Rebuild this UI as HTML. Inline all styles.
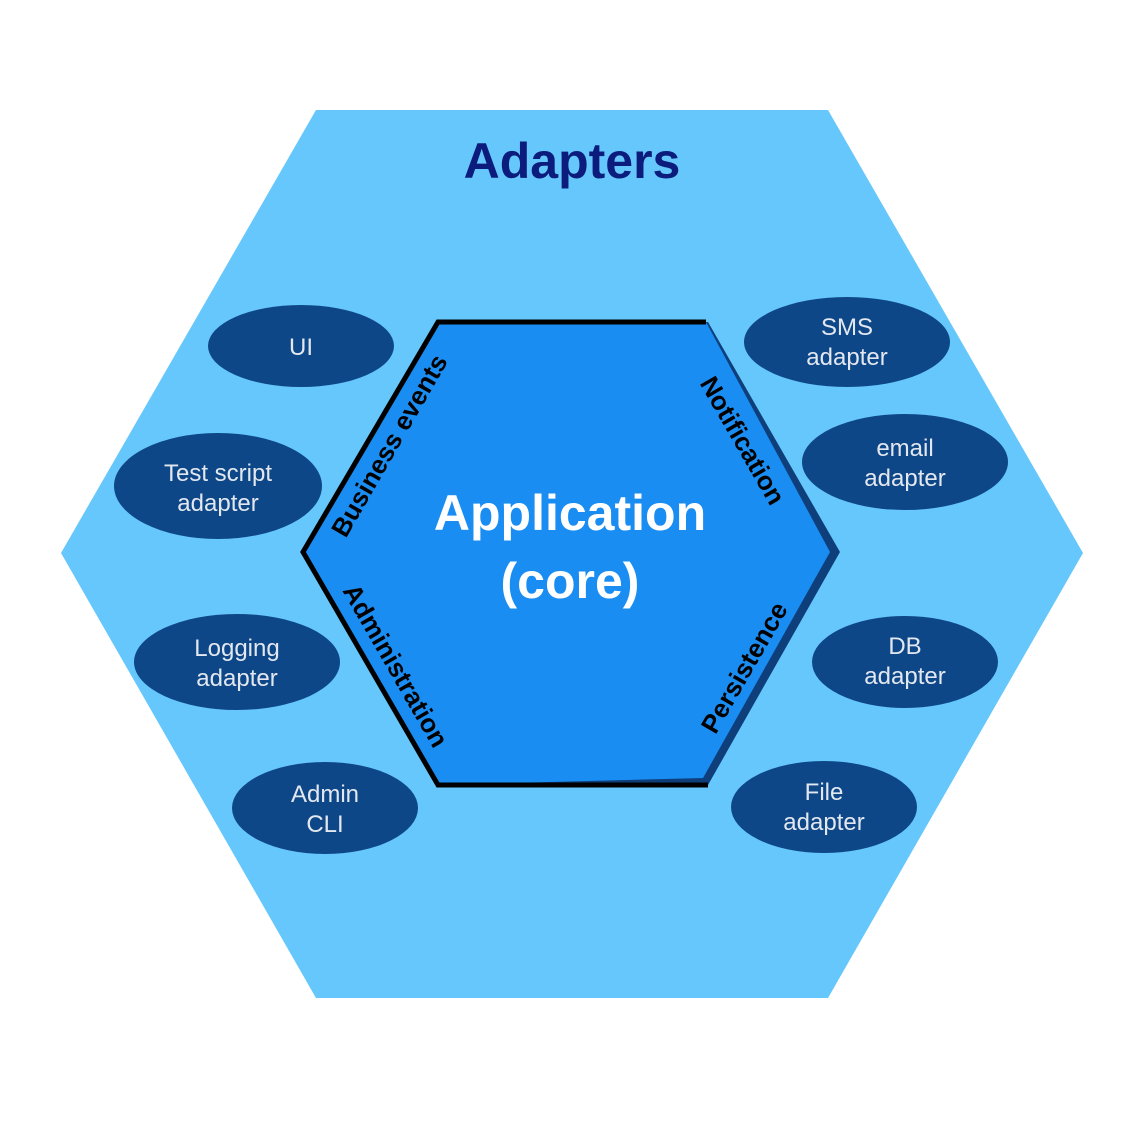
<!DOCTYPE html>
<html><head><meta charset="utf-8"><style>
html,body{margin:0;padding:0;background:#fff;}
svg{display:block;}
</style></head><body>
<svg width="1144" height="1144" viewBox="0 0 1144 1144" xmlns="http://www.w3.org/2000/svg">
<rect width="1144" height="1144" fill="#ffffff"/>
<polygon points="316,110 828,110 1083,553 828,998 316,998 61,553" fill="#66c7fc"/>
<text x="572" y="178" text-anchor="middle" font-family="Liberation Sans, sans-serif" font-weight="bold" font-size="50" fill="#0b1c7c">Adapters</text>
<polygon points="438,322 708,322 840,552 708,785 438,785 303,552" fill="#0e3f7a"/>
<polygon points="438,322 706,322 830,552 703,778 438,785 303,552" fill="#1a8df2"/>
<polyline points="706,322 438,322 303,552 438,785 708,785" fill="none" stroke="#000" stroke-width="5" stroke-linejoin="miter"/>
<text x="570" y="530" text-anchor="middle" font-family="Liberation Sans, sans-serif" font-weight="bold" font-size="50" fill="#ffffff">Application</text>
<text x="570" y="598" text-anchor="middle" font-family="Liberation Sans, sans-serif" font-weight="bold" font-size="50" fill="#ffffff">(core)</text>
<g font-family="Liberation Sans, sans-serif" font-weight="bold" font-size="26" fill="#000" text-anchor="middle">
<text transform="translate(397,450) rotate(-60)">Business events</text>
<text transform="translate(735,445) rotate(60)">Notification</text>
<text transform="translate(388,670) rotate(60)">Administration</text>
<text transform="translate(752,672) rotate(-60)">Persistence</text>
</g>
<g fill="#0e4787">
<ellipse cx="301" cy="346" rx="93" ry="41"/>
<ellipse cx="218" cy="486" rx="104" ry="53"/>
<ellipse cx="237" cy="662" rx="103" ry="48"/>
<ellipse cx="325" cy="808" rx="93" ry="46"/>
<ellipse cx="847" cy="342" rx="103" ry="45"/>
<ellipse cx="905" cy="462" rx="103" ry="48"/>
<ellipse cx="905" cy="662" rx="93" ry="46"/>
<ellipse cx="824" cy="807" rx="93" ry="46"/>
</g>
<g font-family="Liberation Sans, sans-serif" font-size="24" fill="#e3e8f0" text-anchor="middle">
<text x="301" y="355">UI</text>
<text x="218" y="481">Test script</text><text x="218" y="511">adapter</text>
<text x="237" y="656">Logging</text><text x="237" y="686">adapter</text>
<text x="325" y="802">Admin</text><text x="325" y="832">CLI</text>
<text x="847" y="335">SMS</text><text x="847" y="365">adapter</text>
<text x="905" y="456">email</text><text x="905" y="486">adapter</text>
<text x="905" y="654">DB</text><text x="905" y="684">adapter</text>
<text x="824" y="800">File</text><text x="824" y="830">adapter</text>
</g>
</svg>
</body></html>
